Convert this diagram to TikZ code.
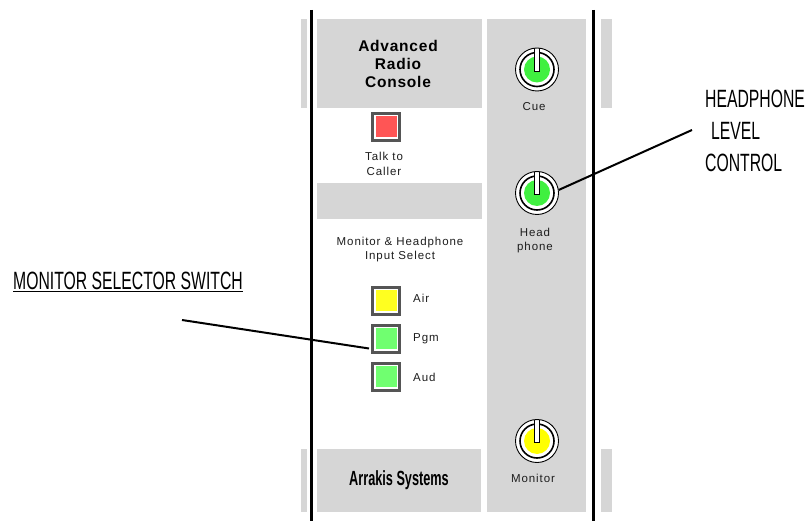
\documentclass[tikz,border=0pt]{standalone}
\usepackage{fontspec}
\setmainfont{Liberation Sans}
\newfontfamily\uifont[LetterSpace=8]{Liberation Sans}
\newfontfamily\titlefont[LetterSpace=5]{Liberation Sans}
\newfontfamily\condfont[FakeStretch=0.63]{Liberation Sans}
\newfontfamily\brandfont[FakeStretch=0.62]{Liberation Sans}
\definecolor{panel}{RGB}{214,214,214}
\definecolor{btngray}{RGB}{85,85,85}
\definecolor{textc}{RGB}{30,30,30}
\definecolor{kgreen}{RGB}{64,240,64}
\definecolor{kyellow}{RGB}{255,255,0}
\definecolor{bgreen}{RGB}{112,255,112}
\definecolor{byellow}{RGB}{255,255,32}
\definecolor{bred}{RGB}{255,85,85}
\begin{document}
\begin{tikzpicture}[x=1pt,y=-1pt,
  ui/.style={font=\uifont\fontsize{11.5}{15.5}\selectfont, text=textc, inner sep=0, align=center},
  titlestyle/.style={font=\titlefont\bfseries\fontsize{15.5}{18.2}\selectfont, inner sep=0, align=center},
  brand/.style={font=\brandfont\bfseries\fontsize{20.5}{24}\selectfont, inner sep=0},
  anno/.style={font=\condfont\fontsize{25}{32}\selectfont, inner sep=0},
  lead/.style={line width=2pt},
  btn/.style={draw=btngray, line width=3pt, fill=white, minimum size=27pt, inner sep=0,
    path picture={\fill[#1] (path picture bounding box.center) +(-10.5pt,-10.5pt) rectangle +(10.5pt,10.5pt);}},
  knob/.style={circle, draw=black, line width=0.9pt, fill=white, minimum size=43pt, inner sep=0,
    path picture={
      \draw[line width=1.6pt] (path picture bounding box.center) circle (17pt);
      \fill[#1] (path picture bounding box.center) circle (13pt);
      \draw[fill=white, line width=0.8pt] (path picture bounding box.center) +(-2.8pt,24pt) rectangle +(2.8pt,-1.5pt);
    }}
]
\useasboundingbox (0,0) rectangle (808,521);
\fill[white] (0,0) rectangle (808,521);
% side stubs
\fill[panel] (301,19) rectangle (307,108);
\fill[panel] (301,449) rectangle (307,512);
\fill[panel] (601,19) rectangle (612,108);
\fill[panel] (601,449) rectangle (612,512);
% panels
\fill[panel] (317,19) rectangle (482,108);
\fill[panel] (487,19) rectangle (586,512);
\fill[panel] (317,183) rectangle (482,219);
\fill[panel] (317,449) rectangle (481,512);
% frame lines
\draw[line width=3pt] (311,10) -- (311,521);
\draw[line width=3pt] (593,10) -- (593,521);

% left column
\node[titlestyle, anchor=north] (title) at (398,40) {Advanced\\Radio\\Console};
\node[btn=bred] (talk) at (386,127) {};
\node[ui, anchor=north] (talklbl) at (384,151.5) {Talk to\\Caller};
\node[ui, anchor=north, font=\uifont\fontsize{11.5}{14.5}\selectfont] (sel) at (400,236.5) {Monitor \& Headphone\\Input Select};
\node[btn=byellow] (air) at (386,300.5) {};
\node[btn=bgreen] (pgm) at (386,338.5) {};
\node[btn=bgreen] (aud) at (386,376.5) {};
\node[ui, anchor=base west] (airlbl) at (413,302.7) {Air};
\node[ui, anchor=base west] (pgmlbl) at (413,341.7) {Pgm};
\node[ui, anchor=base west] (audlbl) at (413,381.5) {Aud};
\node[brand, anchor=base] (brandlbl) at (399,485.5) {Arrakis Systems};

% right column
\node[knob=kgreen] (cue) at (537,69.5) {};
\node[ui, anchor=base] (cuelbl) at (534,110.7) {Cue};
\node[knob=kgreen] (head) at (537,193) {};
\node[ui, anchor=north, font=\uifont\fontsize{11.5}{14}\selectfont] (headlbl) at (535,228.3) {Head\\phone};
\node[knob=kyellow] (mon) at (537,441) {};
\node[ui, anchor=base] (monlbl) at (533,482.7) {Monitor};

% annotations
\node[anno, anchor=base west] (msw) at (13,289) {MONITOR SELECTOR SWITCH};
\draw[line width=1pt] ([yshift=-2.7pt]msw.base west) -- ([yshift=-2.7pt]msw.base east);
\coordinate (msend) at (182,320);
\draw[lead] (msend) -- ([xshift=-2pt,yshift=-10pt]pgm.west);

\node[anno, anchor=north west, align=left] (hpl) at (705,90) {HEADPHONE\\\hspace*{6pt}LEVEL\\CONTROL};
\coordinate (hpend) at (692,130);
\draw[lead] (hpend) -- (head.8);
\end{tikzpicture}
\end{document}
